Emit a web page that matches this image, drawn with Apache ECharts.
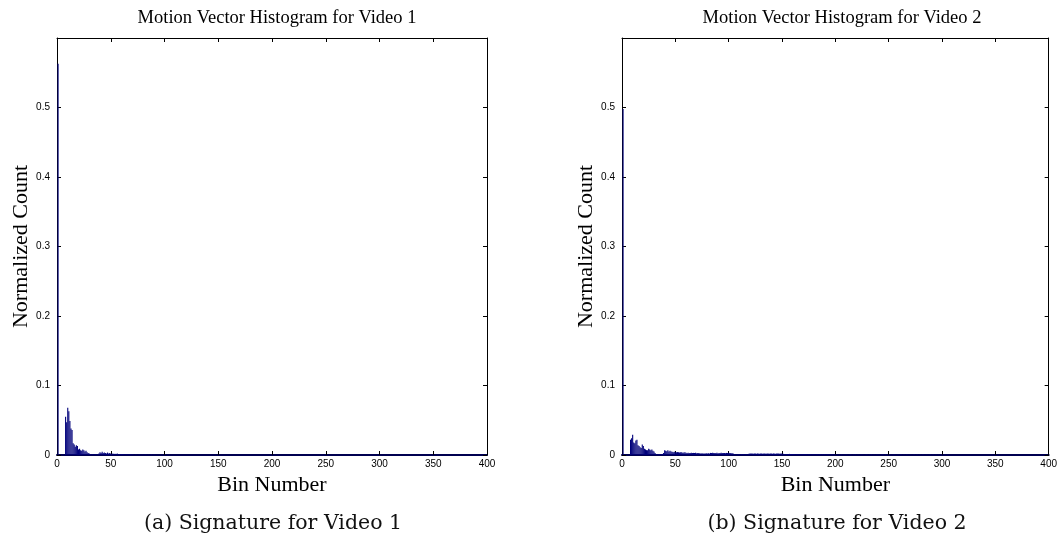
<!DOCTYPE html>
<html>
<head>
<meta charset="utf-8">
<script src="https://cdn.jsdelivr.net/npm/echarts@6/dist/echarts.min.js"></script>
<style>
html,body{margin:0;padding:0;background:#fff;}
#chart{width:1060px;height:554px;}
</style>
</head>
<body>
<div id="chart"></div>
<script>
// ---- data (bin number starts at 1) ----
const titles = ['Motion Vector Histogram for Video 1', 'Motion Vector Histogram for Video 2'];
const captions = ['(a) Signature for Video 1', '(b) Signature for Video 2'];
const xTicks = [0, 50, 100, 150, 200, 250, 300, 350, 400];
const yTicks = [0, 0.1, 0.2, 0.3, 0.4, 0.5];

const video1Counts = [
  0.563, 0, 0, 0, 0, 0, 0, 0.055, 0.047, 0.068,
  0.063, 0.049, 0.038, 0.036, 0.017, 0.015, 0.012, 0.014, 0.013, 0.008,
  0.009, 0.007, 0.006, 0.008, 0.007, 0.005, 0.006, 0.004, 0.003, 0.002,
  0.001, 0.0008, 0.001, 0.0006, 0.0008, 0.001, 0.0007, 0.0012, 0.002, 0.004,
  0.003, 0.0045, 0.003, 0.0035, 0.003, 0.002, 0.0035, 0.002, 0.003, 0.002,
  0.0015, 0.002, 0.0012, 0.0018, 0.0015, 0.002, 0.0012, 0.0016, 0.001, 0.0012,
  0.0009, 0.0011, 0.0008, 0.001, 0.0012, 0.0007, 0.0009, 0.001, 0.0006, 0.0008,
  0.0005, 0, 0.0006, 0.0004, 0, 0.0005, 0.0006, 0, 0.0004, 0.0005,
  0, 0.0006, 0.0004, 0, 0.0005, 0, 0.0004, 0.0006, 0, 0.0004,
  0.0005, 0, 0, 0, 0, 0, 0, 0, 0, 0
];

const video2Counts = [
  0.498, 0, 0, 0, 0, 0, 0, 0.022, 0.024, 0.029,
  0.018, 0.017, 0.021, 0.022, 0.014, 0.013, 0.011, 0.010, 0.015, 0.013,
  0.009, 0.008, 0.007, 0.007, 0.009, 0.008, 0.007, 0.008, 0.006, 0.005,
  0.003, 0.0015, 0.001, 0.0012, 0.0015, 0.001, 0.0012, 0.0015, 0.003, 0.007,
  0.006, 0.0055, 0.007, 0.005, 0.006, 0.005, 0.0045, 0.004, 0.0045, 0.004,
  0.0038, 0.0042, 0.004, 0.0035, 0.004, 0.0038, 0.0032, 0.0036, 0.004, 0.0034,
  0.003, 0.0032, 0.0028, 0.003, 0.0033, 0.0027, 0.003, 0.0029, 0.0031, 0.0026,
  0.0028, 0.003, 0.0025, 0.0022, 0.0024, 0.002, 0.0023, 0.0021, 0.0025, 0.0022,
  0.0024, 0.0021, 0.003, 0.0028, 0.0032, 0.0027, 0.003, 0.0029, 0.0031, 0.0026,
  0.003, 0.0028, 0.0033, 0.0027, 0.003, 0.0029, 0.0026, 0.003, 0.0028, 0.0031,
  0.0027, 0.0029, 0.0025, 0.0026, 0.0012, 0.001, 0.0008, 0.0011, 0.0009, 0.001,
  0.0008, 0.0012, 0.0009, 0.001, 0.0007, 0.0011, 0.0009, 0.001, 0.0019, 0.0021,
  0.002, 0.0022, 0.0018, 0.002, 0.0021, 0.0019, 0.0022, 0.002, 0.0018, 0.0021,
  0.002, 0.0019, 0.0022, 0.0021, 0.0018, 0.002, 0.0022, 0.0019, 0.0021, 0.002,
  0.0018, 0.0022, 0.002, 0.0019, 0.0021, 0.002, 0.0023, 0.0019, 0.002, 0.0022,
  0.0018, 0.0015, 0.0016, 0.0014, 0.0015, 0.0013, 0.0016, 0.0014, 0.0015, 0.0013,
  0.0014, 0.0015, 0.0012, 0.0014, 0.0013, 0.0011, 0.001, 0.0009, 0.0011, 0.001,
  0.0009, 0.0011, 0.001, 0.0008, 0.001, 0.0009, 0.0011, 0.0008, 0.001, 0.0009,
  0.0008, 0.001, 0.0009, 0.0008, 0.001, 0.0009, 0.0007, 0.0009, 0.0008, 0.001,
  0.0007, 0.0008, 0.0009, 0.0007, 0.0008, 0.0006, 0.0008, 0.0007, 0.0006, 0.0008,
  0.0005, 0.0006, 0, 0.0005, 0.0004, 0.0006, 0, 0.0005, 0.0004, 0.0006,
  0.0005, 0, 0.0004, 0.0006, 0.0005, 0, 0.0005, 0.0004, 0.0006, 0,
  0.0005, 0.0004, 0, 0.0006, 0.0005, 0.0004, 0, 0.0005, 0.0006, 0.0004,
  0, 0.0005, 0.0004, 0.0006, 0, 0.0005, 0.0004, 0, 0.0006, 0.0005,
  0.0004, 0, 0.0005, 0.0006, 0.0004, 0, 0.0005, 0.0004, 0.0006, 0,
  0.0005, 0.0004, 0, 0.0005, 0.0006, 0.0004, 0, 0.0005, 0.0004, 0,
  0.0006, 0.0005, 0, 0.0004, 0.0005, 0, 0.0006, 0.0004, 0, 0.0005,
  0.0004, 0, 0.0005, 0.0006, 0, 0.0004, 0.0005, 0, 0.0004, 0.0005,
  0, 0.0006, 0.0004, 0, 0.0005, 0.0004, 0, 0.0005, 0.0006, 0,
  0.0004, 0.0005, 0, 0.0004, 0.0005, 0, 0.0004, 0, 0.0005, 0.0004,
  0, 0.0005, 0.0004, 0, 0.0004
];

// ---- build option ----
const serif = '"Liberation Serif", "Times New Roman", serif';
const capSerif = '"DejaVu Serif", serif';
const sans = '"Liberation Sans", Arial, sans-serif';
const barColor = '#00007a';
const grids = [
  { left: 57, top: 38, width: 430, height: 417 },
  { left: 622, top: 38, width: 430, height: 417 }
];
const centers = grids.map(g => g.left + g.width / 2);

function bottomX(gi) {
  return {
    type: 'value', gridIndex: gi, position: 'bottom', min: 0, max: 400, interval: 50,
    name: 'Bin Number', nameLocation: 'middle', nameGap: 16,
    nameTextStyle: { fontFamily: serif, fontSize: 22, color: '#000' },
    axisLine: { show: true, onZero: false, lineStyle: { color: '#000050', width: 2 } },
    axisTick: { show: true, inside: true, length: 4, lineStyle: { color: '#000' } },
    axisLabel: { fontFamily: sans, fontSize: 10, color: '#000', margin: 4,
      formatter: v => (xTicks.indexOf(v) >= 0 ? String(v) : '') },
    splitLine: { show: false }
  };
}
function topX(gi) {
  return {
    type: 'value', gridIndex: gi, position: 'top', min: 0, max: 400, interval: 50,
    axisLine: { show: true, onZero: false, lineStyle: { color: '#000', width: 1 } },
    axisTick: { show: true, inside: true, length: 4, lineStyle: { color: '#000' } },
    axisLabel: { show: false }, splitLine: { show: false }
  };
}
function leftY(gi) {
  return {
    type: 'value', gridIndex: gi, position: 'left', min: 0, max: 0.6, interval: 0.1,
    name: 'Normalized Count', nameLocation: 'middle', nameGap: 24, nameRotate: 90,
    nameTextStyle: { fontFamily: serif, fontSize: 22, color: '#000' },
    axisLine: { show: true, onZero: false, lineStyle: { color: '#000', width: 1 } },
    axisTick: { show: true, inside: true, length: 4, lineStyle: { color: '#000' } },
    axisLabel: { fontFamily: sans, fontSize: 10, color: '#000', margin: 7, showMaxLabel: false,
      formatter: v => { const r = Math.round(v * 10) / 10; return yTicks.indexOf(r) >= 0 ? String(r) : ''; } },
    splitLine: { show: false }
  };
}
function rightY(gi) {
  return {
    type: 'value', gridIndex: gi, position: 'right', min: 0, max: 0.6, interval: 0.1,
    axisLine: { show: true, onZero: false, lineStyle: { color: '#000', width: 1 } },
    axisTick: { show: true, inside: true, length: 4, lineStyle: { color: '#000' } },
    axisLabel: { show: false }, splitLine: { show: false }
  };
}

function toBars(counts) {
  return counts.map((v, i) => [i + 1, v]);
}

const titleStyle = { fontFamily: serif, fontSize: 18.5, fontWeight: 'normal', color: '#000' };
const capStyle = { fontFamily: capSerif, fontSize: 20.5, fontWeight: 'normal', color: '#111' };

const option = {
  animation: false,
  backgroundColor: '#fff',
  title: [
    { text: titles[0], left: centers[0], top: 4, textAlign: 'center', textStyle: titleStyle },
    { text: titles[1], left: centers[1], top: 4, textAlign: 'center', textStyle: titleStyle },
    { text: captions[0], left: 268, top: 508, textAlign: 'center', textStyle: capStyle },
    { text: captions[1], left: 832, top: 508, textAlign: 'center', textStyle: capStyle }
  ],
  grid: grids.map(g => Object.assign({ containLabel: false, show: false }, g)),
  xAxis: [bottomX(0), topX(0), bottomX(1), topX(1)],
  yAxis: [leftY(0), rightY(0), leftY(1), rightY(1)],
  series: [
    { type: 'bar', xAxisIndex: 0, yAxisIndex: 0, data: toBars(video1Counts),
      barWidth: 1.1, itemStyle: { color: barColor }, silent: true },
    { type: 'bar', xAxisIndex: 2, yAxisIndex: 2, data: toBars(video2Counts),
      barWidth: 1.1, itemStyle: { color: barColor }, silent: true }
  ]
};

const chart = echarts.init(document.getElementById('chart'), null, { renderer: 'canvas' });
chart.setOption(option);
</script>
</body>
</html>
